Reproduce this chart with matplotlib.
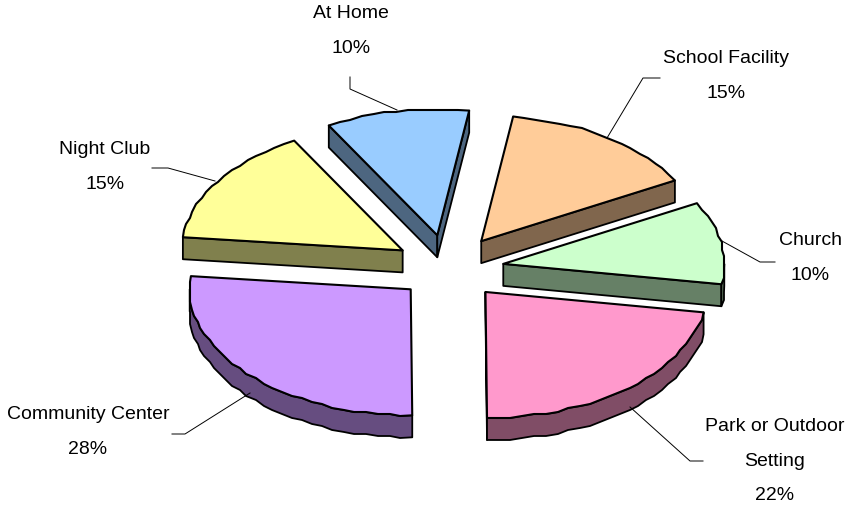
#!/usr/bin/env python3
"""Exploded pseudo-3D pie of activity locations."""

import numpy as np
import matplotlib
matplotlib.use('Agg')
import matplotlib.pyplot as plt
from matplotlib.colors import to_rgb
from matplotlib.patches import Polygon

plt.rcParams['font.family'] = ['Liberation Sans', 'DejaVu Sans']

# Clockwise from the slice boundary near the top of the pie
categories = ['School Facility', 'Church', 'Park or Outdoor\nSetting',
              'Community Center', 'Night Club', 'At Home']
values = [15, 10, 22, 28, 15, 10]
colors = ['#FFCC99', '#CCFFCC', '#FF99CC', '#CC99FF', '#FFFF99', '#99CCFF']

# Layout in pixels
CX, CY = 451, 269
RX, RY = 221, 126
DEPTH = 22
START = 8.4
EXPLODE = 0.24
nudges = [(0, -3), (0, 0), (0, 0), (-1, 0), (-4, -2), (-4, -4)]
# The original's perspective moves the slice boundaries a little (degrees)
boundary_fix = [-0.1, -1.2, 0.9, 2.0, -2.4, -1.8, -0.1]

label_pos = [(726, 76), (810, 258), (775, 461), (88, 432), (105, 167), (351, 31)]
leaders = [
    [(607, 138), (643, 78), (660, 78)],
    [(722, 241), (760, 262), (775, 262)],
    [(630, 407), (690, 461), (703, 461)],
    [(250, 393), (185, 434), (172, 434)],
    [(215, 181), (168, 168), (152, 168)],
    [(397, 110), (350, 89), (350, 77)],
]


def rim(theta, ox, oy):
    """Point on the pie rim, theta clockwise from the top in degrees."""
    t = np.radians(theta)
    return np.column_stack([ox + RX * np.sin(t), oy - RY * np.cos(t)])


def jagged(pts, step=2):
    """Snap the inner rim points to a coarse grid, like the low-res original."""
    out = pts.copy()
    out[1:-1] = np.round(out[1:-1] / step) * step
    return out


def wall(ax, chain, color):
    shifted = chain[::-1] + [0, DEPTH]
    ax.add_patch(Polygon(np.vstack([chain, shifted]), closed=True, facecolor=color,
                         edgecolor='black', linewidth=1.3, joinstyle='round'))


fig = plt.figure(figsize=(8.46, 5.07), dpi=100)
ax = fig.add_axes([0, 0, 1, 1])
ax.set_xlim(0, 846)
ax.set_ylim(507, 0)
ax.axis('off')

edges = START + np.concatenate([[0], np.cumsum(values) * 3.6]) + np.array(boundary_fix)
for i, (color, nudge) in enumerate(zip(colors, nudges)):
    first, last = edges[i], edges[i + 1]
    mid = np.radians((first + last) / 2)
    ox = CX + EXPLODE * RX * np.sin(mid) + nudge[0]
    oy = CY - EXPLODE * RY * np.cos(mid) + nudge[1]
    apex = np.array([[ox, oy]])
    thetas = np.linspace(first, last, max(int((last - first) / 3), 3) + 1)
    arc = jagged(rim(thetas, ox, oy))
    side = tuple(0.5 * c for c in to_rgb(color))

    # Only faces turned towards the viewer get a wall
    if np.sin(np.radians(first)) < 0:
        wall(ax, np.vstack([apex, arc[:1]]), side)
    if np.sin(np.radians(last)) > 0:
        wall(ax, np.vstack([apex, arc[-1:]]), side)
    lo, hi = max(first, 90), min(last, 270)
    if hi > lo:
        mask = (thetas > lo) & (thetas < hi)
        ends = rim(np.array([lo, hi]), ox, oy)
        wall(ax, np.vstack([ends[:1], arc[mask], ends[1:]]), side)

    ax.add_patch(Polygon(np.vstack([apex, arc]), closed=True, facecolor=color,
                         edgecolor='black', linewidth=1.5, joinstyle='round'))

for name, value, pos, line in zip(categories, values, label_pos, leaders):
    xs, ys = zip(*line)
    ax.plot(xs, ys, color='black', linewidth=0.7, solid_joinstyle='miter')
    ax.text(pos[0], pos[1], f'{name}\n{value}%', ha='center', va='center',
            fontsize=14, linespacing=2.38, color='black')

fig.savefig('out.png', dpi=100)
